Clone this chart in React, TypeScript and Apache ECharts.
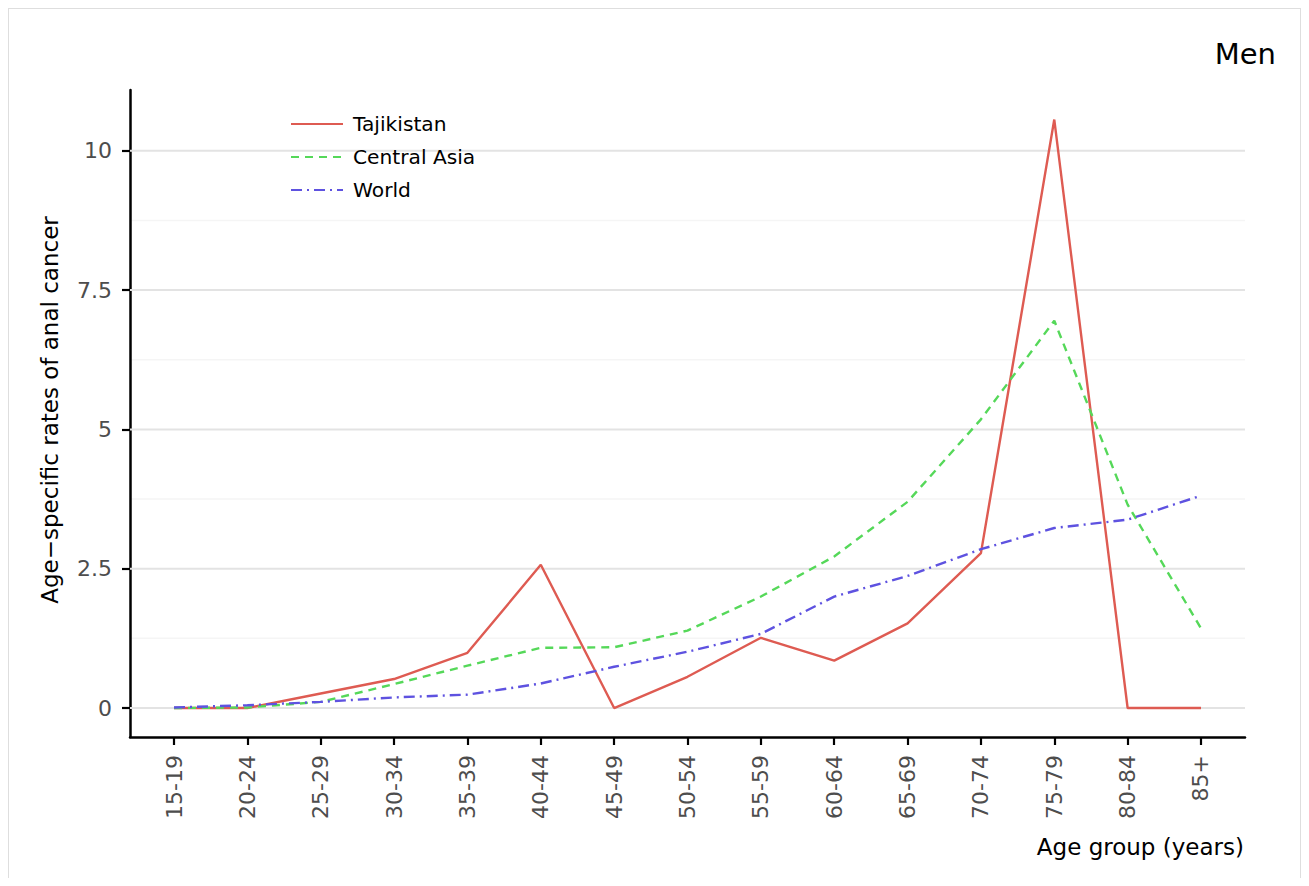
import React, { useEffect, useRef } from "react";
import * as echarts from "echarts";

const ageGroups = ["15-19", "20-24", "25-29", "30-34", "35-39", "40-44", "45-49", "50-54", "55-59", "60-64", "65-69", "70-74", "75-79", "80-84", "85+"];
const tajikistan = [0, 0, 0.26, 0.52, 0.99, 2.57, 0, 0.56, 1.26, 0.85, 1.52, 2.78, 10.56, 0, 0];
const centralAsia = [0, 0.01, 0.11, 0.43, 0.76, 1.08, 1.09, 1.39, 2.0, 2.72, 3.7, 5.18, 6.95, 3.65, 1.43];
const world = [0.01, 0.05, 0.11, 0.19, 0.24, 0.44, 0.74, 1.01, 1.33, 2.0, 2.37, 2.85, 3.23, 3.38, 3.81];
const yTicks = [0, 2.5, 5, 7.5, 10];
const yMinorTicks = [1.25, 3.75, 6.25, 8.75];
const seriesNames = ["Tajikistan", "Central Asia", "World"];
const panelLabel = "Men";
const xTitle = "Age group (years)";
const yTitle = "Age\u2212specific rates of anal cancer";

export default function App() {
  const ref = useRef<HTMLDivElement>(null);
  useEffect(() => {
    if (!ref.current) return;
    const chart = echarts.init(ref.current, null, { renderer: "svg" });
    const font = "DejaVu Sans";
    const toPoints = (vals: number[]) => vals.map((v, i) => [i, v]);
    const xIdx = ageGroups.map((_, i) => i);
    const gridSeries = (name: string, vals: number[], color: string, width: number, z: number) => ({
      name,
      type: "custom",
      silent: true,
      z,
      clip: false,
      encode: { x: 0, y: 1 },
      data: vals.map((v) => [0, v]),
      renderItem: (params: any, api: any) => {
        const cs = params.coordSys;
        const y = api.coord([0, api.value(1)])[1];
        return {
          type: "line",
          shape: { x1: cs.x, y1: y, x2: cs.x + cs.width, y2: y },
          style: { stroke: color, lineWidth: width, fill: "none" },
        };
      },
    });
    chart.setOption({
      animation: false,
      textStyle: { fontFamily: font },
      grid: { left: 121, right: 55, top: 81, bottom: 141, containLabel: false },
      legend: {
        data: seriesNames,
        orient: "vertical",
        left: 276,
        top: 100,
        z: 20,
        itemWidth: 52,
        itemHeight: 14,
        itemGap: 13,
        itemStyle: { opacity: 0 },
        textStyle: { fontFamily: font, fontSize: 20.2, color: "#000", lineHeight: 20, padding: [0, 0, 0, 5] },
      },
      xAxis: {
        type: "value",
        min: -0.6,
        max: 14.6,
        axisLine: { show: true, onZero: false, lineStyle: { color: "#000", width: 2.5 } },
        axisTick: { show: true, inside: false, customValues: xIdx, length: 8, lineStyle: { color: "#000", width: 2.2 } },
        axisLabel: {
          customValues: xIdx,
          formatter: (v: number) => ageGroups[Math.round(v)] ?? "",
          rotate: 90,
          margin: 18,
          color: "#4d4d4d",
          fontSize: 22,
          fontFamily: font,
        },
        splitLine: { show: false },
      },
      yAxis: {
        type: "value",
        min: -0.52,
        max: 11.09,
        axisLine: { show: true, onZero: false, lineStyle: { color: "#000", width: 2.5 } },
        axisTick: { show: true, inside: false, customValues: yTicks, length: 8, lineStyle: { color: "#000", width: 2.2 } },
        axisLabel: {
          customValues: yTicks,
          formatter: (v: number) => String(v),
          margin: 18,
          color: "#4d4d4d",
          fontSize: 22,
          fontFamily: font,
        },
        splitLine: { show: false },
      },
      series: [
        gridSeries("__minorGrid", yMinorTicks, "#f5f5f5", 1.5, 0),
        gridSeries("__majorGrid", yTicks, "#e3e3e3", 2, 1),
        {
          name: seriesNames[0],
          type: "line",
          data: toPoints(tajikistan),
          symbol: "none",
          z: 10,
          lineStyle: { color: "#DE5B52", width: 2.4, type: "solid" },
          itemStyle: { color: "#DE5B52" },
        },
        {
          name: seriesNames[1],
          type: "line",
          data: toPoints(centralAsia),
          symbol: "none",
          z: 10,
          lineStyle: { color: "#55D859", width: 2.4, type: [8, 6] },
          itemStyle: { color: "#55D859" },
        },
        {
          name: seriesNames[2],
          type: "line",
          data: toPoints(world),
          symbol: "none",
          z: 10,
          lineStyle: { color: "#5E52E0", width: 2.4, type: [11, 5, 2, 5] },
          itemStyle: { color: "#5E52E0" },
        },
      ],
      graphic: [
        {
          type: "text",
          x: 41,
          y: 401,
          rotation: Math.PI / 2,
          style: { text: yTitle, fontSize: 23, fill: "#000", align: "center", verticalAlign: "middle", fontFamily: font },
        },
        {
          type: "text",
          x: 1235,
          y: 838,
          style: { text: xTitle, fontSize: 23, fill: "#000", align: "right", verticalAlign: "middle", fontFamily: font },
        },
        {
          type: "text",
          x: 1267,
          y: 45,
          style: { text: panelLabel, fontSize: 29, fill: "#000", align: "right", verticalAlign: "middle", fontFamily: font },
        },
      ],
    });
    return () => chart.dispose();
  }, []);
  return (
    <div
      style={{
        width: 1293,
        height: 870,
        borderLeft: "1px solid #dedede",
        borderTop: "1px solid #dedede",
        borderRight: "1px solid #dedede",
        boxSizing: "border-box",
        background: "#fff",
      }}
    >
      <div ref={ref} style={{ width: 1291, height: 869 }} />
    </div>
  );
}
